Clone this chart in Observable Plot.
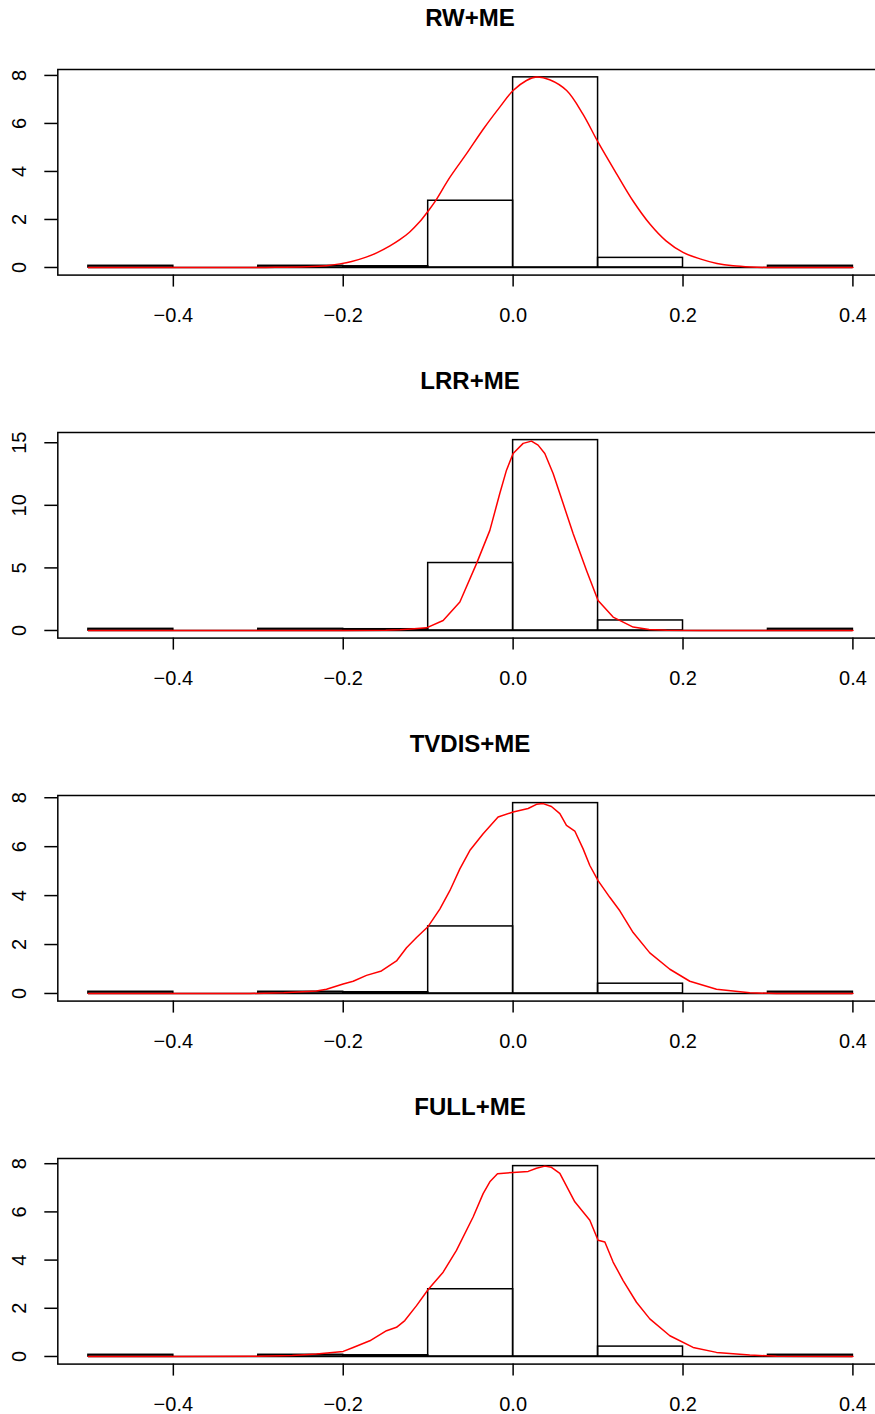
<!DOCTYPE html>
<html>
<head>
<meta charset="utf-8">
<script src="https://cdn.jsdelivr.net/npm/d3@7"></script>
<script src="https://cdn.jsdelivr.net/npm/@observablehq/plot@0.6"></script>
<style>
  html, body { margin: 0; padding: 0; background: #fff; overflow: hidden; }
  #root { position: relative; width: 875px; height: 1414px; overflow: hidden; background: #fff; }
  .title { position: absolute; left: 0; width: 940px; text-align: center;
           font: bold 24px "Liberation Sans", Arial, Helvetica, sans-serif; line-height: 24px; color: #000; }
  .panel { position: absolute; left: 0; }
</style>
</head>
<body>
<div id="root"></div>
<script>
// ---------------- data ----------------
const titles = ["RW+ME", "LRR+ME", "TVDIS+ME", "FULL+ME"];
const binEdges = [-0.5, -0.4, -0.3, -0.2, -0.1, 0, 0.1, 0.2, 0.3, 0.4];
const xTicks = [-0.4, -0.2, 0, 0.2, 0.4];
const yTicks8 = [0, 2, 4, 6, 8];
const yTicks15 = [0, 5, 10, 15];

const rwBars    = [0.07, 0, 0.07, 0.05, 2.78, 7.92, 0.40, 0, 0.07];
const lrrBars   = [0.13, 0, 0.13, 0.10, 5.39, 15.21, 0.80, 0, 0.13];
const tvdisBars = [0.07, 0, 0.07, 0.05, 2.74, 7.78, 0.40, 0, 0.07];
const fullBars  = [0.07, 0, 0.07, 0.05, 2.79, 7.90, 0.41, 0, 0.07];

const rwDensX = [-0.5, -0.4, -0.32, -0.28, -0.243, -0.22, -0.204, -0.19, -0.173, -0.16, -0.145, -0.133, -0.122, -0.11, -0.1, -0.092, -0.0745, -0.055, -0.035, -0.0157, 0, 0.0157, 0.0275, 0.043, 0.063, 0.082, 0.1, 0.122, 0.141, 0.161, 0.18, 0.2, 0.22, 0.24, 0.259, 0.28, 0.3, 0.4];
const rwDensY = [0, 0, 0, 0.005, 0.03, 0.075, 0.15, 0.25, 0.43, 0.62, 0.9, 1.17, 1.47, 1.9, 2.35, 2.74, 3.75, 4.73, 5.77, 6.68, 7.37, 7.79, 7.93, 7.82, 7.37, 6.40, 5.22, 3.89, 2.78, 1.81, 1.11, 0.63, 0.36, 0.17, 0.07, 0.02, 0, 0];

const lrrDensX = [-0.5, -0.2, -0.15, -0.133, -0.12, -0.102, -0.0824, -0.0627, -0.0431, -0.0274, -0.0157, -0.0078, 0, 0.0118, 0.0216, 0.0294, 0.0373, 0.0471, 0.0589, 0.0706, 0.0864, 0.1, 0.1177, 0.1413, 0.16, 0.1806, 0.22, 0.4];
const lrrDensY = [0, 0, 0.01, 0.05, 0.12, 0.21, 0.8, 2.27, 5.34, 8.0, 10.94, 12.81, 14.14, 14.95, 15.13, 14.81, 14.14, 12.54, 10.14, 7.74, 4.8, 2.4, 1.07, 0.27, 0.08, 0.02, 0, 0];

const tvdisDensX = [-0.5, -0.4, -0.31, -0.27, -0.2315, -0.2197, -0.2001, -0.1883, -0.1726, -0.155, -0.1373, -0.1255, -0.1137, -0.1, -0.0863, -0.0745, -0.0627, -0.051, -0.0353, -0.0177, 0, 0.0177, 0.0275, 0.0353, 0.0451, 0.055, 0.0628, 0.0726, 0.0824, 0.0903, 0.1, 0.1138, 0.1256, 0.1413, 0.1609, 0.1845, 0.208, 0.2394, 0.2786, 0.31, 0.4];
const tvdisDensY = [0, 0, 0, 0.03, 0.1, 0.17, 0.39, 0.5, 0.74, 0.92, 1.33, 1.87, 2.29, 2.74, 3.45, 4.2, 5.09, 5.84, 6.53, 7.21, 7.42, 7.56, 7.73, 7.76, 7.64, 7.35, 6.87, 6.64, 5.91, 5.23, 4.61, 3.93, 3.38, 2.49, 1.66, 0.99, 0.5, 0.17, 0.03, 0, 0];

const fullDensX = [-0.5, -0.4, -0.3, -0.26, -0.2315, -0.2, -0.1883, -0.1687, -0.149, -0.1373, -0.1275, -0.1137, -0.1, -0.0824, -0.0667, -0.0471, -0.0353, -0.0274, -0.0184, 0, 0.0177, 0.0275, 0.0373, 0.0451, 0.055, 0.0726, 0.0824, 0.0903, 0.1, 0.108, 0.1177, 0.1295, 0.1452, 0.1609, 0.1845, 0.2119, 0.2394, 0.2786, 0.31, 0.4];
const fullDensY = [0, 0, 0.01, 0.04, 0.1, 0.21, 0.375, 0.65, 1.07, 1.21, 1.49, 2.11, 2.78, 3.5, 4.4, 5.79, 6.76, 7.25, 7.58, 7.64, 7.68, 7.81, 7.9, 7.85, 7.6, 6.42, 6.0, 5.65, 4.82, 4.75, 3.92, 3.15, 2.25, 1.56, 0.86, 0.375, 0.17, 0.06, 0.01, 0];

// ---------------- layout ----------------
const panels = [
  {title: titles[0], bars: rwBars,    dx: rwDensX,    dy: rwDensY,    yTicks: yTicks8,  curve: "catmull-rom"},
  {title: titles[1], bars: lrrBars,   dx: lrrDensX,   dy: lrrDensY,   yTicks: yTicks15, curve: "linear"},
  {title: titles[2], bars: tvdisBars, dx: tvdisDensX, dy: tvdisDensY, yTicks: yTicks8,  curve: "linear"},
  {title: titles[3], bars: fullBars,  dx: fullDensX,  dy: fullDensY,  yTicks: yTicks8,  curve: "linear"}
];

const root = document.getElementById("root");
const BOX_TOP0 = 69.3, STEP = 362.85, BOX_H = 205.6, MT = 10, MB = 62;
const FONT = '"Liberation Sans", Arial, Helvetica, sans-serif';
const LW = 1.5;

panels.forEach((p, i) => {
  const boxTop = BOX_TOP0 + STEP * i;
  const M = Math.max(d3.max(p.bars), d3.max(p.dy));
  const bins = p.bars.map((h, k) => ({x1: binEdges[k], x2: binEdges[k + 1], h}));
  const dens = p.dx.map((x, k) => ({x, y: p.dy[k]}));
  const lo = binEdges[0], hi = binEdges[binEdges.length - 1];
  const xr = hi - lo;

  const chart = Plot.plot({
    width: 884,
    height: MT + BOX_H + MB,
    marginTop: MT,
    marginBottom: MB,
    marginLeft: 57.3,
    marginRight: 1,
    x: {domain: [lo - 0.04 * xr, hi + 0.04 * xr]},
    y: {domain: [-0.04 * M, 1.04 * M]},
    style: {fontFamily: FONT, fontSize: "20px", background: "white", color: "black", maxWidth: "none", overflow: "visible"},
    marks: [
      Plot.ruleY([0], {x1: lo, x2: hi, stroke: "black", strokeWidth: LW}),
      Plot.rect(bins, {x1: "x1", x2: "x2", y1: 0, y2: "h", fill: "none", stroke: "black", strokeWidth: LW}),
      Plot.line(dens, {x: "x", y: "y", stroke: "red", strokeWidth: LW, curve: p.curve}),
      Plot.frame({stroke: "black", strokeWidth: LW}),
      Plot.axisX({ticks: xTicks, tickSize: 12, tickPadding: 21, tickFormat: d3.format(".1f"), label: null, fontSize: 20, strokeWidth: LW}),
      Plot.axisY({ticks: p.yTicks, tickSize: 13, tickFormat: () => "", label: null, strokeWidth: LW}),
      Plot.text(p.yTicks, {y: d => d, text: d => String(d), frameAnchor: "left", dx: -38.3, rotate: -90,
                           fontSize: 20, textAnchor: "middle", lineAnchor: "middle", fill: "black"})
    ]
  });
  chart.style.maxWidth = "none";
  chart.style.position = "absolute";
  chart.style.left = "0px";
  chart.style.top = (boxTop - MT) + "px";
  chart.setAttribute("class", (chart.getAttribute("class") || "") + " panel");
  root.appendChild(chart);

  const t = document.createElement("div");
  t.className = "title";
  t.textContent = p.title;
  t.style.top = (boxTop - 63) + "px";
  root.appendChild(t);
});
</script>
</body>
</html>
